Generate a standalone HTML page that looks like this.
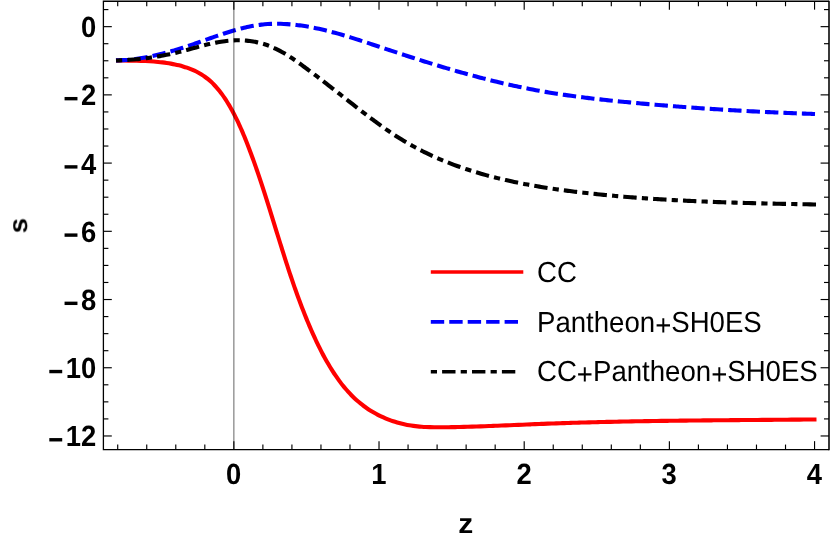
<!DOCTYPE html>
<html><head><meta charset="utf-8">
<style>
html,body{margin:0;padding:0;background:#fff;}
svg{display:block;}
text{font-family:"Liberation Sans",sans-serif;fill:#000;text-rendering:geometricPrecision;}
.txt{filter:grayscale(1);}
.tk{font-weight:bold;font-size:28.4px;}
.lg{font-size:27.6px;}
.ax{font-weight:bold;font-size:28px;}
</style></head><body>
<svg width="830" height="542" viewBox="0 0 830 542">
<rect x="0" y="0" width="830" height="542" fill="#fff"/>
<g fill="none" stroke-linecap="butt" stroke-linejoin="round" stroke-width="4.1">
<path d="M116.00 60.40 C116.67 60.42 118.68 60.46 120.04 60.49 C121.40 60.52 122.76 60.53 124.14 60.55 C125.52 60.57 126.90 60.59 128.30 60.61 C129.69 60.63 131.09 60.65 132.50 60.68 C133.91 60.70 135.32 60.73 136.74 60.77 C138.16 60.80 139.58 60.84 141.01 60.89 C142.44 60.93 143.87 60.99 145.30 61.05 C146.73 61.12 148.16 61.19 149.59 61.27 C151.02 61.36 152.45 61.45 153.88 61.56 C155.31 61.67 156.73 61.79 158.16 61.92 C159.58 62.06 161.00 62.21 162.41 62.38 C163.82 62.55 165.23 62.73 166.63 62.94 C168.03 63.15 169.43 63.37 170.81 63.61 C172.20 63.86 173.58 64.12 174.94 64.41 C176.31 64.70 177.66 65.01 179.01 65.35 C180.35 65.68 181.68 66.04 183.00 66.43 C184.31 66.82 185.62 67.23 186.91 67.68 C188.19 68.12 189.47 68.59 190.72 69.10 C191.98 69.60 193.22 70.13 194.44 70.70 C195.66 71.27 196.86 71.87 198.04 72.50 C199.22 73.13 200.38 73.80 201.52 74.51 C202.65 75.21 203.77 75.95 204.86 76.73 C205.95 77.51 207.02 78.33 208.07 79.19 C209.11 80.04 210.13 80.94 211.13 81.86 C212.13 82.79 213.10 83.75 214.06 84.74 C215.01 85.73 215.94 86.75 216.85 87.80 C217.77 88.84 218.66 89.92 219.53 91.02 C220.40 92.12 221.25 93.24 222.09 94.39 C222.92 95.53 223.73 96.70 224.53 97.88 C225.33 99.06 226.11 100.26 226.87 101.48 C227.64 102.69 228.38 103.92 229.11 105.16 C229.84 106.40 230.56 107.66 231.26 108.92 C231.96 110.18 232.64 111.45 233.32 112.72 C233.99 114.00 234.65 115.27 235.29 116.56 C235.94 117.84 236.57 119.13 237.19 120.42 C237.81 121.71 238.42 123.01 239.02 124.31 C239.62 125.61 240.21 126.91 240.79 128.22 C241.37 129.52 241.94 130.83 242.50 132.14 C243.06 133.46 243.61 134.77 244.15 136.09 C244.69 137.40 245.23 138.72 245.76 140.04 C246.29 141.36 246.81 142.68 247.33 144.00 C247.84 145.33 248.35 146.65 248.86 147.98 C249.36 149.30 249.87 150.62 250.36 151.95 C250.86 153.28 251.35 154.60 251.84 155.93 C252.33 157.25 252.81 158.58 253.29 159.91 C253.77 161.24 254.24 162.56 254.72 163.89 C255.19 165.22 255.66 166.55 256.12 167.88 C256.58 169.21 257.05 170.54 257.50 171.87 C257.96 173.20 258.41 174.53 258.87 175.86 C259.32 177.19 259.76 178.52 260.21 179.85 C260.65 181.18 261.10 182.51 261.54 183.84 C261.98 185.17 262.41 186.51 262.85 187.84 C263.28 189.17 263.72 190.50 264.15 191.83 C264.58 193.16 265.00 194.50 265.43 195.83 C265.86 197.16 266.28 198.49 266.70 199.82 C267.12 201.16 267.54 202.49 267.96 203.82 C268.38 205.15 268.80 206.49 269.22 207.82 C269.63 209.15 270.05 210.48 270.46 211.81 C270.88 213.15 271.29 214.48 271.70 215.81 C272.12 217.14 272.53 218.47 272.94 219.80 C273.35 221.13 273.76 222.47 274.17 223.80 C274.58 225.13 274.99 226.46 275.40 227.79 C275.81 229.12 276.22 230.45 276.63 231.78 C277.04 233.11 277.45 234.44 277.86 235.77 C278.28 237.10 278.69 238.43 279.10 239.75 C279.51 241.08 279.92 242.41 280.34 243.74 C280.75 245.07 281.16 246.39 281.58 247.72 C281.99 249.05 282.41 250.37 282.83 251.70 C283.24 253.02 283.66 254.35 284.08 255.67 C284.50 257.00 284.93 258.32 285.35 259.64 C285.77 260.97 286.20 262.29 286.63 263.61 C287.05 264.93 287.48 266.26 287.92 267.58 C288.35 268.90 288.78 270.22 289.22 271.54 C289.66 272.86 290.09 274.17 290.54 275.49 C290.98 276.81 291.42 278.13 291.87 279.44 C292.32 280.76 292.77 282.07 293.22 283.39 C293.68 284.70 294.13 286.02 294.59 287.33 C295.05 288.64 295.52 289.95 295.98 291.26 C296.45 292.58 296.92 293.89 297.40 295.19 C297.87 296.50 298.35 297.81 298.83 299.12 C299.32 300.42 299.80 301.73 300.29 303.03 C300.79 304.34 301.28 305.64 301.78 306.95 C302.28 308.25 302.79 309.55 303.30 310.85 C303.81 312.15 304.32 313.45 304.84 314.75 C305.36 316.04 305.88 317.34 306.41 318.64 C306.94 319.93 307.48 321.23 308.02 322.52 C308.56 323.81 309.11 325.10 309.66 326.39 C310.21 327.68 310.77 328.97 311.33 330.26 C311.89 331.55 312.46 332.83 313.04 334.12 C313.62 335.40 314.20 336.68 314.79 337.96 C315.38 339.24 315.98 340.52 316.59 341.79 C317.19 343.07 317.81 344.34 318.43 345.61 C319.05 346.87 319.68 348.14 320.32 349.40 C320.96 350.66 321.61 351.92 322.27 353.17 C322.93 354.43 323.60 355.68 324.28 356.92 C324.96 358.16 325.65 359.41 326.35 360.64 C327.05 361.88 327.76 363.11 328.48 364.33 C329.20 365.56 329.94 366.78 330.68 367.99 C331.43 369.20 332.19 370.41 332.96 371.61 C333.73 372.81 334.51 374.00 335.31 375.18 C336.11 376.36 336.92 377.53 337.74 378.68 C338.57 379.84 339.40 380.99 340.26 382.12 C341.11 383.26 341.98 384.38 342.86 385.48 C343.74 386.59 344.64 387.68 345.55 388.75 C346.46 389.83 347.39 390.89 348.33 391.93 C349.28 392.97 350.24 393.99 351.22 395.00 C352.19 396.00 353.19 396.99 354.20 397.95 C355.21 398.91 356.24 399.86 357.29 400.78 C358.33 401.70 359.40 402.60 360.48 403.47 C361.56 404.34 362.67 405.20 363.78 406.02 C364.90 406.85 366.03 407.66 367.18 408.44 C368.33 409.22 369.49 409.98 370.67 410.71 C371.85 411.45 373.04 412.16 374.24 412.84 C375.45 413.53 376.67 414.19 377.90 414.83 C379.13 415.46 380.37 416.08 381.63 416.66 C382.88 417.25 384.15 417.81 385.43 418.35 C386.70 418.89 387.99 419.40 389.28 419.89 C390.58 420.38 391.89 420.84 393.20 421.27 C394.51 421.71 395.84 422.12 397.16 422.51 C398.49 422.89 399.83 423.25 401.17 423.58 C402.52 423.91 403.86 424.22 405.22 424.50 C406.57 424.78 407.93 425.03 409.30 425.26 C410.66 425.49 412.03 425.69 413.40 425.88 C414.78 426.06 416.15 426.22 417.53 426.36 C418.91 426.50 420.30 426.62 421.69 426.73 C423.07 426.83 424.47 426.92 425.86 426.99 C427.25 427.06 428.65 427.12 430.05 427.16 C431.44 427.21 432.84 427.24 434.24 427.26 C435.65 427.28 437.05 427.29 438.45 427.29 C439.86 427.30 441.26 427.29 442.67 427.28 C444.07 427.27 445.48 427.25 446.88 427.23 C448.29 427.22 449.69 427.19 451.10 427.17 C452.50 427.14 453.90 427.12 455.31 427.09 C456.71 427.06 458.12 427.03 459.52 427.00 C460.92 426.96 462.32 426.93 463.73 426.89 C465.13 426.86 466.53 426.82 467.93 426.78 C469.34 426.74 470.74 426.70 472.14 426.65 C473.54 426.61 474.94 426.57 476.34 426.52 C477.74 426.47 479.14 426.42 480.54 426.38 C481.95 426.33 483.35 426.28 484.75 426.23 C486.15 426.17 487.55 426.12 488.95 426.07 C490.35 426.02 491.74 425.96 493.14 425.91 C494.54 425.85 495.94 425.80 497.34 425.74 C498.74 425.68 500.14 425.62 501.54 425.57 C502.94 425.51 504.34 425.45 505.74 425.39 C507.13 425.33 508.53 425.28 509.93 425.22 C511.33 425.16 512.73 425.10 514.13 425.04 C515.52 424.98 516.92 424.92 518.32 424.86 C519.72 424.80 521.12 424.74 522.52 424.68 C523.91 424.62 525.31 424.56 526.71 424.50 C528.11 424.45 529.51 424.39 530.90 424.33 C532.30 424.27 533.70 424.21 535.10 424.16 C536.50 424.10 537.90 424.05 539.29 423.99 C540.69 423.94 542.09 423.88 543.49 423.83 C544.89 423.77 546.29 423.72 547.69 423.67 C549.08 423.62 550.48 423.57 551.88 423.52 C553.28 423.47 554.68 423.42 556.08 423.37 C557.48 423.32 558.88 423.27 560.27 423.22 C561.67 423.18 563.07 423.13 564.47 423.09 C565.87 423.04 567.27 423.00 568.67 422.95 C570.07 422.91 571.47 422.86 572.87 422.82 C574.26 422.78 575.66 422.74 577.06 422.69 C578.46 422.65 579.86 422.61 581.26 422.57 C582.66 422.53 584.06 422.49 585.46 422.45 C586.86 422.42 588.26 422.38 589.66 422.34 C591.06 422.30 592.46 422.27 593.86 422.23 C595.26 422.19 596.66 422.16 598.06 422.12 C599.46 422.09 600.86 422.05 602.26 422.02 C603.66 421.99 605.06 421.95 606.46 421.92 C607.86 421.89 609.26 421.86 610.66 421.83 C612.06 421.79 613.46 421.76 614.86 421.73 C616.26 421.70 617.66 421.67 619.06 421.64 C620.46 421.62 621.86 421.59 623.26 421.56 C624.66 421.53 626.06 421.50 627.46 421.48 C628.86 421.45 630.26 421.42 631.66 421.40 C633.06 421.37 634.46 421.34 635.86 421.32 C637.26 421.29 638.66 421.27 640.06 421.25 C641.46 421.22 642.86 421.20 644.26 421.17 C645.66 421.15 647.06 421.13 648.46 421.11 C649.86 421.08 651.26 421.06 652.66 421.04 C654.06 421.02 655.46 421.00 656.86 420.98 C658.27 420.96 659.67 420.94 661.07 420.92 C662.47 420.90 663.87 420.88 665.27 420.86 C666.67 420.84 668.07 420.82 669.47 420.80 C670.87 420.78 672.27 420.76 673.67 420.74 C675.07 420.73 676.47 420.71 677.87 420.69 C679.27 420.67 680.67 420.66 682.07 420.64 C683.48 420.62 684.88 420.61 686.28 420.59 C687.68 420.58 689.08 420.56 690.48 420.54 C691.88 420.53 693.28 420.51 694.68 420.50 C696.08 420.48 697.48 420.47 698.88 420.45 C700.28 420.44 701.68 420.43 703.08 420.41 C704.48 420.40 705.89 420.38 707.29 420.37 C708.69 420.36 710.09 420.34 711.49 420.33 C712.89 420.32 714.29 420.30 715.69 420.29 C717.09 420.28 718.49 420.26 719.89 420.25 C721.29 420.24 722.69 420.23 724.09 420.21 C725.49 420.20 726.89 420.19 728.29 420.18 C729.69 420.17 731.10 420.15 732.50 420.14 C733.90 420.13 735.30 420.12 736.70 420.11 C738.10 420.10 739.50 420.08 740.90 420.07 C742.30 420.06 743.70 420.05 745.10 420.04 C746.50 420.03 747.90 420.02 749.30 420.00 C750.70 419.99 752.10 419.98 753.50 419.97 C754.90 419.96 756.30 419.95 757.70 419.94 C759.10 419.93 760.50 419.92 761.90 419.90 C763.30 419.89 764.70 419.88 766.10 419.87 C767.50 419.86 768.90 419.85 770.30 419.84 C771.70 419.83 773.10 419.82 774.50 419.80 C775.90 419.79 777.30 419.78 778.70 419.77 C780.10 419.76 781.50 419.75 782.90 419.74 C784.30 419.72 785.70 419.71 787.10 419.70 C788.50 419.69 789.90 419.68 791.30 419.67 C792.70 419.65 794.10 419.64 795.50 419.63 C796.90 419.62 798.30 419.61 799.70 419.59 C801.10 419.58 802.50 419.57 803.90 419.56 C805.30 419.54 806.70 419.53 808.09 419.52 C809.49 419.50 810.89 419.49 812.29 419.48 C813.69 419.47 815.80 419.45 816.50 419.44" stroke="#ff0000"/>
<path d="M116.00 60.40 C116.55 60.38 118.20 60.35 119.29 60.30 C120.38 60.26 121.46 60.22 122.55 60.16 C123.63 60.10 124.72 60.02 125.80 59.94 C126.88 59.86 127.95 59.77 129.03 59.67 C130.11 59.57 131.18 59.46 132.25 59.34 C133.33 59.22 134.40 59.09 135.47 58.96 C136.53 58.82 137.60 58.67 138.67 58.51 C139.73 58.36 140.80 58.19 141.86 58.02 C142.92 57.85 143.98 57.67 145.04 57.48 C146.10 57.29 147.16 57.09 148.22 56.89 C149.28 56.68 150.33 56.47 151.39 56.25 C152.44 56.03 153.49 55.80 154.55 55.56 C155.60 55.33 156.65 55.09 157.70 54.84 C158.75 54.59 159.80 54.33 160.85 54.07 C161.90 53.81 162.94 53.54 163.99 53.27 C165.04 52.99 166.08 52.71 167.13 52.43 C168.17 52.14 169.22 51.85 170.26 51.55 C171.31 51.25 172.35 50.95 173.39 50.64 C174.44 50.34 175.48 50.02 176.52 49.71 C177.56 49.39 178.60 49.07 179.65 48.74 C180.69 48.41 181.73 48.08 182.77 47.75 C183.81 47.41 184.85 47.07 185.89 46.73 C186.93 46.38 187.97 46.04 189.02 45.69 C190.06 45.34 191.10 44.98 192.14 44.63 C193.18 44.27 194.22 43.91 195.26 43.55 C196.30 43.18 197.35 42.82 198.39 42.45 C199.43 42.08 200.47 41.71 201.51 41.34 C202.56 40.97 203.60 40.60 204.64 40.23 C205.69 39.86 206.73 39.49 207.77 39.12 C208.82 38.75 209.86 38.38 210.90 38.01 C211.95 37.64 212.99 37.27 214.04 36.91 C215.08 36.54 216.13 36.18 217.18 35.82 C218.22 35.46 219.27 35.10 220.32 34.75 C221.36 34.40 222.41 34.05 223.46 33.70 C224.50 33.36 225.55 33.02 226.60 32.68 C227.65 32.35 228.70 32.02 229.75 31.69 C230.80 31.37 231.85 31.05 232.90 30.74 C233.95 30.43 235.00 30.13 236.05 29.83 C237.10 29.54 238.16 29.25 239.21 28.97 C240.26 28.69 241.32 28.42 242.37 28.16 C243.43 27.90 244.48 27.65 245.54 27.41 C246.59 27.16 247.65 26.93 248.70 26.71 C249.76 26.49 250.82 26.28 251.88 26.08 C252.93 25.89 253.99 25.70 255.05 25.53 C256.11 25.35 257.17 25.19 258.23 25.04 C259.29 24.89 260.36 24.76 261.42 24.64 C262.48 24.52 263.54 24.41 264.61 24.32 C265.67 24.22 266.74 24.14 267.80 24.07 C268.87 24.00 269.93 23.95 271.00 23.90 C272.06 23.86 273.13 23.82 274.20 23.80 C275.26 23.78 276.33 23.78 277.40 23.78 C278.47 23.78 279.53 23.80 280.60 23.82 C281.67 23.85 282.74 23.88 283.81 23.93 C284.87 23.98 285.94 24.03 287.01 24.10 C288.08 24.17 289.15 24.25 290.22 24.34 C291.28 24.42 292.35 24.52 293.42 24.63 C294.49 24.74 295.56 24.85 296.62 24.98 C297.69 25.10 298.76 25.24 299.83 25.38 C300.90 25.53 301.96 25.68 303.03 25.84 C304.10 26.00 305.16 26.17 306.23 26.35 C307.29 26.52 308.36 26.71 309.42 26.90 C310.49 27.09 311.55 27.29 312.62 27.50 C313.68 27.70 314.74 27.92 315.81 28.14 C316.87 28.36 317.93 28.59 318.99 28.82 C320.05 29.06 321.11 29.30 322.17 29.54 C323.23 29.79 324.29 30.04 325.35 30.30 C326.40 30.56 327.46 30.82 328.52 31.09 C329.57 31.36 330.63 31.63 331.68 31.91 C332.73 32.19 333.79 32.47 334.84 32.76 C335.89 33.05 336.94 33.34 337.99 33.63 C339.04 33.93 340.09 34.23 341.14 34.54 C342.18 34.84 343.23 35.15 344.28 35.46 C345.32 35.77 346.37 36.09 347.41 36.41 C348.46 36.72 349.50 37.04 350.55 37.37 C351.59 37.69 352.63 38.02 353.68 38.35 C354.72 38.68 355.76 39.01 356.80 39.34 C357.84 39.67 358.88 40.01 359.92 40.35 C360.96 40.68 362.00 41.02 363.04 41.36 C364.08 41.70 365.12 42.04 366.16 42.39 C367.19 42.73 368.23 43.07 369.27 43.42 C370.31 43.76 371.34 44.10 372.38 44.45 C373.42 44.79 374.45 45.14 375.49 45.48 C376.52 45.83 377.56 46.17 378.60 46.51 C379.63 46.86 380.67 47.20 381.70 47.55 C382.74 47.89 383.77 48.23 384.81 48.58 C385.84 48.92 386.88 49.26 387.91 49.60 C388.94 49.95 389.98 50.29 391.01 50.63 C392.05 50.97 393.08 51.31 394.12 51.65 C395.15 51.99 396.18 52.33 397.22 52.67 C398.25 53.01 399.29 53.35 400.32 53.69 C401.36 54.03 402.39 54.37 403.43 54.70 C404.46 55.04 405.50 55.38 406.53 55.71 C407.57 56.05 408.60 56.38 409.64 56.72 C410.67 57.05 411.71 57.39 412.74 57.72 C413.78 58.05 414.82 58.38 415.85 58.71 C416.89 59.05 417.93 59.38 418.96 59.71 C420.00 60.03 421.04 60.36 422.08 60.69 C423.12 61.02 424.16 61.35 425.19 61.67 C426.23 62.00 427.27 62.32 428.31 62.65 C429.35 62.97 430.40 63.29 431.44 63.61 C432.48 63.94 433.52 64.26 434.56 64.58 C435.60 64.89 436.65 65.21 437.69 65.53 C438.73 65.85 439.78 66.16 440.82 66.48 C441.86 66.79 442.91 67.11 443.95 67.42 C445.00 67.73 446.04 68.04 447.09 68.35 C448.14 68.66 449.18 68.97 450.23 69.28 C451.27 69.58 452.32 69.89 453.37 70.19 C454.42 70.50 455.47 70.80 456.51 71.10 C457.56 71.40 458.61 71.70 459.66 72.00 C460.71 72.30 461.76 72.59 462.81 72.89 C463.86 73.18 464.91 73.48 465.96 73.77 C467.01 74.06 468.06 74.35 469.12 74.64 C470.17 74.93 471.22 75.22 472.27 75.50 C473.32 75.79 474.38 76.07 475.43 76.35 C476.49 76.63 477.54 76.91 478.59 77.19 C479.65 77.47 480.70 77.75 481.76 78.02 C482.81 78.30 483.87 78.57 484.92 78.84 C485.98 79.11 487.04 79.38 488.09 79.65 C489.15 79.91 490.21 80.18 491.26 80.44 C492.32 80.70 493.38 80.96 494.44 81.22 C495.49 81.48 496.55 81.74 497.61 81.99 C498.67 82.25 499.73 82.50 500.79 82.75 C501.85 83.00 502.91 83.25 503.97 83.49 C505.03 83.74 506.09 83.98 507.15 84.22 C508.21 84.47 509.27 84.71 510.34 84.94 C511.40 85.18 512.46 85.41 513.52 85.65 C514.59 85.88 515.65 86.11 516.71 86.34 C517.77 86.56 518.84 86.79 519.90 87.01 C520.97 87.23 522.03 87.45 523.09 87.67 C524.16 87.89 525.22 88.10 526.29 88.32 C527.35 88.53 528.42 88.74 529.49 88.95 C530.55 89.15 531.62 89.36 532.68 89.56 C533.75 89.76 534.82 89.96 535.88 90.16 C536.95 90.36 538.02 90.55 539.09 90.74 C540.15 90.93 541.22 91.12 542.29 91.31 C543.36 91.50 544.43 91.68 545.50 91.86 C546.56 92.05 547.63 92.23 548.70 92.40 C549.77 92.58 550.84 92.75 551.91 92.93 C552.98 93.10 554.05 93.27 555.12 93.44 C556.19 93.61 557.27 93.77 558.34 93.94 C559.41 94.10 560.48 94.26 561.55 94.42 C562.62 94.58 563.70 94.74 564.77 94.90 C565.84 95.05 566.91 95.21 567.99 95.36 C569.06 95.51 570.13 95.66 571.20 95.81 C572.28 95.96 573.35 96.10 574.43 96.25 C575.50 96.39 576.57 96.53 577.65 96.68 C578.72 96.82 579.80 96.96 580.87 97.09 C581.95 97.23 583.02 97.37 584.10 97.50 C585.17 97.64 586.25 97.77 587.32 97.90 C588.40 98.03 589.47 98.16 590.55 98.29 C591.63 98.42 592.70 98.54 593.78 98.67 C594.86 98.79 595.93 98.92 597.01 99.04 C598.09 99.16 599.17 99.29 600.24 99.41 C601.32 99.53 602.40 99.64 603.48 99.76 C604.55 99.88 605.63 100.00 606.71 100.11 C607.79 100.23 608.87 100.34 609.95 100.45 C611.03 100.57 612.11 100.68 613.18 100.79 C614.26 100.90 615.34 101.01 616.42 101.12 C617.50 101.23 618.58 101.34 619.66 101.45 C620.74 101.55 621.82 101.66 622.90 101.77 C623.98 101.87 625.06 101.98 626.14 102.08 C627.23 102.18 628.31 102.29 629.39 102.39 C630.47 102.49 631.55 102.60 632.63 102.70 C633.71 102.80 634.79 102.90 635.88 103.00 C636.96 103.10 638.04 103.20 639.12 103.30 C640.20 103.40 641.29 103.49 642.37 103.59 C643.45 103.69 644.53 103.79 645.61 103.88 C646.70 103.98 647.78 104.07 648.86 104.17 C649.95 104.26 651.03 104.36 652.11 104.45 C653.20 104.54 654.28 104.64 655.36 104.73 C656.45 104.82 657.53 104.91 658.61 105.00 C659.70 105.09 660.78 105.18 661.86 105.27 C662.95 105.36 664.03 105.45 665.12 105.54 C666.20 105.63 667.29 105.72 668.37 105.80 C669.45 105.89 670.54 105.98 671.62 106.06 C672.71 106.15 673.79 106.23 674.88 106.32 C675.96 106.40 677.05 106.48 678.13 106.57 C679.22 106.65 680.30 106.73 681.39 106.82 C682.47 106.90 683.56 106.98 684.64 107.06 C685.73 107.14 686.81 107.22 687.90 107.30 C688.99 107.38 690.07 107.46 691.16 107.54 C692.24 107.61 693.33 107.69 694.42 107.77 C695.50 107.85 696.59 107.92 697.67 108.00 C698.76 108.07 699.85 108.15 700.93 108.22 C702.02 108.30 703.10 108.37 704.19 108.45 C705.28 108.52 706.36 108.59 707.45 108.66 C708.54 108.74 709.62 108.81 710.71 108.88 C711.80 108.95 712.88 109.02 713.97 109.09 C715.05 109.16 716.14 109.23 717.23 109.30 C718.31 109.37 719.40 109.43 720.49 109.50 C721.58 109.57 722.66 109.64 723.75 109.70 C724.84 109.77 725.92 109.83 727.01 109.90 C728.10 109.96 729.18 110.03 730.27 110.09 C731.36 110.16 732.44 110.22 733.53 110.28 C734.62 110.35 735.70 110.41 736.79 110.47 C737.88 110.53 738.97 110.59 740.05 110.65 C741.14 110.71 742.23 110.77 743.31 110.83 C744.40 110.89 745.49 110.95 746.57 111.01 C747.66 111.07 748.75 111.13 749.84 111.18 C750.92 111.24 752.01 111.30 753.10 111.35 C754.18 111.41 755.27 111.47 756.36 111.52 C757.44 111.58 758.53 111.63 759.62 111.68 C760.70 111.74 761.79 111.79 762.88 111.84 C763.97 111.90 765.05 111.95 766.14 112.00 C767.23 112.05 768.31 112.11 769.40 112.16 C770.49 112.21 771.57 112.26 772.66 112.31 C773.75 112.36 774.83 112.41 775.92 112.45 C777.00 112.50 778.09 112.55 779.18 112.60 C780.26 112.65 781.35 112.69 782.44 112.74 C783.52 112.79 784.61 112.83 785.70 112.88 C786.78 112.93 787.87 112.97 788.95 113.02 C790.04 113.06 791.13 113.10 792.21 113.15 C793.30 113.19 794.38 113.23 795.47 113.28 C796.55 113.32 797.64 113.36 798.73 113.40 C799.81 113.44 800.90 113.49 801.98 113.53 C803.07 113.57 804.15 113.61 805.24 113.65 C806.32 113.69 807.41 113.73 808.49 113.76 C809.58 113.80 810.66 113.84 811.75 113.88 C812.83 113.92 814.46 113.98 815.00 114.00" stroke="#0000ff" stroke-dasharray="13.4 5.05"/>
<path d="M116.00 60.50 C116.57 60.48 118.29 60.42 119.44 60.38 C120.58 60.33 121.72 60.28 122.86 60.22 C124.00 60.16 125.14 60.10 126.27 60.03 C127.41 59.96 128.54 59.88 129.67 59.80 C130.81 59.72 131.93 59.64 133.06 59.54 C134.19 59.45 135.32 59.35 136.44 59.25 C137.56 59.14 138.69 59.03 139.81 58.92 C140.93 58.80 142.05 58.68 143.17 58.55 C144.28 58.42 145.40 58.28 146.51 58.14 C147.63 58.00 148.74 57.85 149.85 57.69 C150.97 57.54 152.08 57.37 153.19 57.21 C154.30 57.04 155.40 56.86 156.51 56.68 C157.62 56.50 158.73 56.31 159.83 56.11 C160.94 55.92 162.04 55.72 163.14 55.51 C164.25 55.30 165.35 55.08 166.45 54.86 C167.55 54.64 168.65 54.41 169.75 54.17 C170.85 53.94 171.95 53.70 173.05 53.45 C174.15 53.20 175.25 52.94 176.34 52.68 C177.44 52.41 178.54 52.14 179.63 51.87 C180.73 51.59 181.83 51.30 182.92 51.02 C184.02 50.73 185.12 50.44 186.21 50.14 C187.31 49.85 188.41 49.55 189.50 49.25 C190.60 48.95 191.70 48.65 192.80 48.35 C193.90 48.05 195.00 47.75 196.10 47.45 C197.20 47.15 198.30 46.85 199.40 46.56 C200.51 46.27 201.61 45.98 202.72 45.69 C203.83 45.41 204.94 45.13 206.05 44.85 C207.16 44.58 208.27 44.31 209.39 44.06 C210.50 43.80 211.62 43.55 212.74 43.31 C213.86 43.07 214.98 42.84 216.10 42.62 C217.22 42.40 218.34 42.19 219.47 42.00 C220.59 41.80 221.72 41.62 222.84 41.45 C223.97 41.29 225.10 41.13 226.22 41.00 C227.35 40.86 228.48 40.74 229.61 40.64 C230.74 40.54 231.87 40.45 233.00 40.39 C234.12 40.33 235.25 40.28 236.38 40.25 C237.51 40.23 238.64 40.23 239.76 40.25 C240.89 40.26 242.02 40.30 243.14 40.36 C244.26 40.43 245.39 40.51 246.51 40.61 C247.63 40.71 248.74 40.84 249.85 40.99 C250.97 41.13 252.08 41.30 253.18 41.49 C254.29 41.68 255.39 41.89 256.48 42.12 C257.58 42.35 258.67 42.60 259.75 42.88 C260.83 43.15 261.91 43.45 262.98 43.77 C264.05 44.08 265.11 44.42 266.17 44.78 C267.22 45.14 268.27 45.52 269.31 45.93 C270.35 46.33 271.38 46.75 272.40 47.20 C273.43 47.64 274.44 48.10 275.45 48.58 C276.45 49.06 277.45 49.56 278.45 50.08 C279.44 50.59 280.43 51.12 281.41 51.67 C282.39 52.21 283.36 52.77 284.33 53.35 C285.30 53.92 286.26 54.50 287.22 55.10 C288.18 55.70 289.13 56.31 290.08 56.93 C291.03 57.54 291.97 58.17 292.91 58.81 C293.85 59.44 294.79 60.09 295.72 60.74 C296.66 61.39 297.59 62.05 298.51 62.71 C299.44 63.37 300.36 64.04 301.28 64.71 C302.21 65.38 303.12 66.05 304.04 66.72 C304.96 67.40 305.87 68.08 306.79 68.75 C307.70 69.43 308.62 70.11 309.53 70.79 C310.44 71.47 311.35 72.16 312.25 72.84 C313.16 73.52 314.07 74.21 314.98 74.90 C315.88 75.58 316.78 76.27 317.69 76.96 C318.59 77.65 319.49 78.34 320.39 79.03 C321.30 79.72 322.20 80.42 323.10 81.11 C323.99 81.80 324.89 82.50 325.79 83.19 C326.69 83.89 327.59 84.59 328.48 85.28 C329.38 85.98 330.28 86.68 331.17 87.38 C332.07 88.07 332.96 88.77 333.86 89.47 C334.75 90.17 335.65 90.87 336.54 91.57 C337.44 92.27 338.33 92.98 339.22 93.68 C340.12 94.38 341.01 95.08 341.91 95.78 C342.80 96.49 343.70 97.19 344.59 97.89 C345.48 98.59 346.38 99.30 347.27 100.00 C348.17 100.70 349.06 101.41 349.96 102.11 C350.86 102.81 351.75 103.51 352.65 104.22 C353.55 104.92 354.45 105.62 355.34 106.32 C356.24 107.03 357.14 107.73 358.04 108.43 C358.94 109.13 359.84 109.83 360.75 110.53 C361.65 111.23 362.55 111.92 363.45 112.62 C364.36 113.31 365.26 114.01 366.17 114.70 C367.08 115.39 367.99 116.09 368.89 116.77 C369.80 117.46 370.71 118.15 371.63 118.83 C372.54 119.52 373.45 120.20 374.37 120.88 C375.28 121.56 376.20 122.23 377.12 122.90 C378.04 123.58 378.96 124.25 379.88 124.91 C380.81 125.58 381.73 126.24 382.66 126.90 C383.58 127.56 384.51 128.21 385.44 128.86 C386.37 129.51 387.31 130.16 388.24 130.80 C389.18 131.44 390.12 132.08 391.06 132.71 C392.00 133.34 392.94 133.97 393.88 134.59 C394.83 135.21 395.78 135.83 396.73 136.44 C397.68 137.05 398.63 137.66 399.59 138.26 C400.55 138.86 401.50 139.45 402.47 140.04 C403.43 140.63 404.39 141.21 405.36 141.79 C406.33 142.36 407.30 142.93 408.28 143.49 C409.25 144.05 410.23 144.61 411.21 145.16 C412.19 145.71 413.17 146.25 414.16 146.79 C415.14 147.33 416.13 147.86 417.12 148.38 C418.11 148.91 419.11 149.43 420.11 149.94 C421.10 150.45 422.10 150.96 423.11 151.46 C424.11 151.96 425.12 152.46 426.12 152.95 C427.13 153.44 428.14 153.92 429.16 154.40 C430.17 154.88 431.19 155.35 432.20 155.82 C433.22 156.28 434.24 156.74 435.27 157.20 C436.29 157.65 437.32 158.10 438.35 158.55 C439.37 158.99 440.41 159.43 441.44 159.86 C442.47 160.30 443.51 160.73 444.55 161.15 C445.58 161.57 446.62 161.99 447.67 162.40 C448.71 162.81 449.75 163.22 450.80 163.62 C451.85 164.02 452.90 164.42 453.95 164.81 C455.00 165.20 456.05 165.59 457.11 165.97 C458.16 166.35 459.22 166.73 460.28 167.10 C461.34 167.47 462.40 167.84 463.47 168.20 C464.53 168.57 465.60 168.92 466.66 169.28 C467.73 169.63 468.80 169.98 469.87 170.32 C470.94 170.66 472.02 171.00 473.09 171.34 C474.17 171.67 475.24 172.00 476.32 172.32 C477.40 172.65 478.48 172.97 479.56 173.29 C480.64 173.60 481.73 173.92 482.81 174.22 C483.90 174.53 484.99 174.83 486.07 175.13 C487.16 175.43 488.25 175.73 489.34 176.02 C490.44 176.31 491.53 176.60 492.62 176.88 C493.72 177.16 494.81 177.44 495.91 177.72 C497.01 177.99 498.11 178.26 499.21 178.53 C500.31 178.80 501.41 179.06 502.51 179.32 C503.61 179.58 504.72 179.84 505.82 180.09 C506.93 180.34 508.04 180.59 509.14 180.83 C510.25 181.08 511.36 181.32 512.47 181.56 C513.58 181.79 514.69 182.03 515.80 182.26 C516.91 182.49 518.03 182.72 519.14 182.94 C520.26 183.17 521.37 183.39 522.49 183.60 C523.60 183.82 524.72 184.04 525.84 184.25 C526.96 184.46 528.07 184.67 529.19 184.87 C530.31 185.08 531.43 185.28 532.56 185.48 C533.68 185.68 534.80 185.87 535.92 186.06 C537.04 186.26 538.17 186.45 539.29 186.63 C540.42 186.82 541.54 187.01 542.67 187.19 C543.79 187.37 544.92 187.55 546.04 187.72 C547.17 187.90 548.30 188.07 549.42 188.25 C550.55 188.42 551.68 188.58 552.81 188.75 C553.94 188.92 555.07 189.08 556.19 189.24 C557.32 189.40 558.45 189.56 559.58 189.72 C560.71 189.87 561.84 190.03 562.97 190.18 C564.10 190.33 565.23 190.48 566.37 190.63 C567.50 190.78 568.63 190.92 569.76 191.07 C570.89 191.21 572.02 191.35 573.15 191.49 C574.28 191.63 575.42 191.77 576.55 191.90 C577.68 192.04 578.81 192.17 579.94 192.30 C581.07 192.43 582.20 192.56 583.34 192.69 C584.47 192.82 585.60 192.95 586.73 193.07 C587.86 193.20 588.99 193.32 590.12 193.44 C591.25 193.56 592.38 193.69 593.52 193.80 C594.65 193.92 595.78 194.04 596.91 194.16 C598.04 194.27 599.17 194.39 600.29 194.50 C601.42 194.61 602.55 194.72 603.68 194.84 C604.81 194.95 605.94 195.05 607.07 195.16 C608.20 195.27 609.33 195.38 610.45 195.48 C611.58 195.58 612.71 195.69 613.84 195.79 C614.97 195.89 616.09 195.99 617.22 196.09 C618.35 196.19 619.48 196.29 620.60 196.39 C621.73 196.48 622.86 196.58 623.98 196.67 C625.11 196.77 626.24 196.86 627.36 196.95 C628.49 197.04 629.62 197.14 630.74 197.22 C631.87 197.31 632.99 197.40 634.12 197.49 C635.25 197.58 636.37 197.66 637.50 197.75 C638.62 197.83 639.75 197.91 640.88 198.00 C642.00 198.08 643.13 198.16 644.25 198.24 C645.38 198.32 646.50 198.40 647.63 198.47 C648.75 198.55 649.88 198.63 651.00 198.70 C652.13 198.78 653.25 198.85 654.38 198.93 C655.50 199.00 656.63 199.07 657.75 199.14 C658.88 199.22 660.00 199.29 661.13 199.35 C662.25 199.42 663.37 199.49 664.50 199.56 C665.62 199.63 666.75 199.69 667.87 199.76 C669.00 199.82 670.12 199.89 671.25 199.95 C672.37 200.01 673.49 200.07 674.62 200.13 C675.74 200.20 676.87 200.26 677.99 200.32 C679.12 200.38 680.24 200.43 681.37 200.49 C682.49 200.55 683.61 200.61 684.74 200.66 C685.86 200.72 686.99 200.77 688.11 200.83 C689.24 200.88 690.36 200.93 691.49 200.99 C692.61 201.04 693.74 201.09 694.86 201.14 C695.98 201.19 697.11 201.24 698.23 201.29 C699.36 201.34 700.48 201.39 701.61 201.43 C702.73 201.48 703.86 201.53 704.98 201.57 C706.11 201.62 707.23 201.67 708.36 201.71 C709.49 201.76 710.61 201.80 711.74 201.84 C712.86 201.89 713.99 201.93 715.11 201.97 C716.24 202.01 717.37 202.05 718.49 202.09 C719.62 202.13 720.74 202.17 721.87 202.21 C723.00 202.25 724.12 202.29 725.25 202.33 C726.38 202.37 727.50 202.40 728.63 202.44 C729.76 202.48 730.88 202.51 732.01 202.55 C733.14 202.58 734.26 202.62 735.39 202.65 C736.52 202.69 737.65 202.72 738.77 202.76 C739.90 202.79 741.03 202.82 742.16 202.85 C743.29 202.89 744.42 202.92 745.54 202.95 C746.67 202.98 747.80 203.01 748.93 203.04 C750.06 203.07 751.19 203.10 752.32 203.13 C753.45 203.16 754.58 203.19 755.71 203.22 C756.84 203.25 757.97 203.28 759.10 203.30 C760.23 203.33 761.36 203.36 762.49 203.39 C763.62 203.41 764.75 203.44 765.88 203.47 C767.02 203.49 768.15 203.52 769.28 203.55 C770.41 203.57 771.54 203.60 772.68 203.62 C773.81 203.65 774.94 203.67 776.07 203.70 C777.21 203.72 778.34 203.74 779.48 203.77 C780.61 203.79 781.74 203.82 782.88 203.84 C784.01 203.86 785.15 203.89 786.28 203.91 C787.42 203.93 788.55 203.96 789.69 203.98 C790.82 204.00 791.96 204.02 793.10 204.05 C794.23 204.07 795.37 204.09 796.51 204.11 C797.64 204.13 798.78 204.16 799.92 204.18 C801.06 204.20 802.19 204.22 803.33 204.24 C804.47 204.26 805.61 204.28 806.75 204.31 C807.89 204.33 809.03 204.35 810.17 204.37 C811.31 204.39 812.45 204.41 813.59 204.43 C814.73 204.45 816.43 204.49 817.00 204.50" stroke="#000" stroke-dasharray="6.2 5.1 13.4 5.2"/>
</g>
<line x1="233.85" y1="1.25" x2="233.85" y2="449.55" stroke="#000" stroke-opacity="0.5" stroke-width="1.2"/>
<g>
<line x1="117.71" y1="449.55" x2="117.71" y2="444.55" stroke="#000" stroke-width="1.15"/>
<line x1="117.71" y1="1.25" x2="117.71" y2="6.25" stroke="#000" stroke-width="1.15"/>
<line x1="146.74" y1="449.55" x2="146.74" y2="444.55" stroke="#000" stroke-width="1.15"/>
<line x1="146.74" y1="1.25" x2="146.74" y2="6.25" stroke="#000" stroke-width="1.15"/>
<line x1="175.78" y1="449.55" x2="175.78" y2="444.55" stroke="#000" stroke-width="1.15"/>
<line x1="175.78" y1="1.25" x2="175.78" y2="6.25" stroke="#000" stroke-width="1.15"/>
<line x1="204.81" y1="449.55" x2="204.81" y2="444.55" stroke="#000" stroke-width="1.15"/>
<line x1="204.81" y1="1.25" x2="204.81" y2="6.25" stroke="#000" stroke-width="1.15"/>
<line x1="233.85" y1="449.55" x2="233.85" y2="441.15" stroke="#000" stroke-width="1.15"/>
<line x1="233.85" y1="1.25" x2="233.85" y2="9.65" stroke="#000" stroke-width="1.15"/>
<line x1="262.88" y1="449.55" x2="262.88" y2="444.55" stroke="#000" stroke-width="1.15"/>
<line x1="262.88" y1="1.25" x2="262.88" y2="6.25" stroke="#000" stroke-width="1.15"/>
<line x1="291.92" y1="449.55" x2="291.92" y2="444.55" stroke="#000" stroke-width="1.15"/>
<line x1="291.92" y1="1.25" x2="291.92" y2="6.25" stroke="#000" stroke-width="1.15"/>
<line x1="320.96" y1="449.55" x2="320.96" y2="444.55" stroke="#000" stroke-width="1.15"/>
<line x1="320.96" y1="1.25" x2="320.96" y2="6.25" stroke="#000" stroke-width="1.15"/>
<line x1="349.99" y1="449.55" x2="349.99" y2="444.55" stroke="#000" stroke-width="1.15"/>
<line x1="349.99" y1="1.25" x2="349.99" y2="6.25" stroke="#000" stroke-width="1.15"/>
<line x1="379.02" y1="449.55" x2="379.02" y2="441.15" stroke="#000" stroke-width="1.15"/>
<line x1="379.02" y1="1.25" x2="379.02" y2="9.65" stroke="#000" stroke-width="1.15"/>
<line x1="408.06" y1="449.55" x2="408.06" y2="444.55" stroke="#000" stroke-width="1.15"/>
<line x1="408.06" y1="1.25" x2="408.06" y2="6.25" stroke="#000" stroke-width="1.15"/>
<line x1="437.10" y1="449.55" x2="437.10" y2="444.55" stroke="#000" stroke-width="1.15"/>
<line x1="437.10" y1="1.25" x2="437.10" y2="6.25" stroke="#000" stroke-width="1.15"/>
<line x1="466.13" y1="449.55" x2="466.13" y2="444.55" stroke="#000" stroke-width="1.15"/>
<line x1="466.13" y1="1.25" x2="466.13" y2="6.25" stroke="#000" stroke-width="1.15"/>
<line x1="495.17" y1="449.55" x2="495.17" y2="444.55" stroke="#000" stroke-width="1.15"/>
<line x1="495.17" y1="1.25" x2="495.17" y2="6.25" stroke="#000" stroke-width="1.15"/>
<line x1="524.20" y1="449.55" x2="524.20" y2="441.15" stroke="#000" stroke-width="1.15"/>
<line x1="524.20" y1="1.25" x2="524.20" y2="9.65" stroke="#000" stroke-width="1.15"/>
<line x1="553.24" y1="449.55" x2="553.24" y2="444.55" stroke="#000" stroke-width="1.15"/>
<line x1="553.24" y1="1.25" x2="553.24" y2="6.25" stroke="#000" stroke-width="1.15"/>
<line x1="582.27" y1="449.55" x2="582.27" y2="444.55" stroke="#000" stroke-width="1.15"/>
<line x1="582.27" y1="1.25" x2="582.27" y2="6.25" stroke="#000" stroke-width="1.15"/>
<line x1="611.31" y1="449.55" x2="611.31" y2="444.55" stroke="#000" stroke-width="1.15"/>
<line x1="611.31" y1="1.25" x2="611.31" y2="6.25" stroke="#000" stroke-width="1.15"/>
<line x1="640.34" y1="449.55" x2="640.34" y2="444.55" stroke="#000" stroke-width="1.15"/>
<line x1="640.34" y1="1.25" x2="640.34" y2="6.25" stroke="#000" stroke-width="1.15"/>
<line x1="669.38" y1="449.55" x2="669.38" y2="441.15" stroke="#000" stroke-width="1.15"/>
<line x1="669.38" y1="1.25" x2="669.38" y2="9.65" stroke="#000" stroke-width="1.15"/>
<line x1="698.41" y1="449.55" x2="698.41" y2="444.55" stroke="#000" stroke-width="1.15"/>
<line x1="698.41" y1="1.25" x2="698.41" y2="6.25" stroke="#000" stroke-width="1.15"/>
<line x1="727.45" y1="449.55" x2="727.45" y2="444.55" stroke="#000" stroke-width="1.15"/>
<line x1="727.45" y1="1.25" x2="727.45" y2="6.25" stroke="#000" stroke-width="1.15"/>
<line x1="756.48" y1="449.55" x2="756.48" y2="444.55" stroke="#000" stroke-width="1.15"/>
<line x1="756.48" y1="1.25" x2="756.48" y2="6.25" stroke="#000" stroke-width="1.15"/>
<line x1="785.52" y1="449.55" x2="785.52" y2="444.55" stroke="#000" stroke-width="1.15"/>
<line x1="785.52" y1="1.25" x2="785.52" y2="6.25" stroke="#000" stroke-width="1.15"/>
<line x1="814.55" y1="449.55" x2="814.55" y2="441.15" stroke="#000" stroke-width="1.15"/>
<line x1="814.55" y1="1.25" x2="814.55" y2="9.65" stroke="#000" stroke-width="1.15"/>
<line x1="103.40" y1="9.59" x2="108.40" y2="9.59" stroke="#000" stroke-width="1.15"/>
<line x1="829.00" y1="9.59" x2="824.00" y2="9.59" stroke="#000" stroke-width="1.15"/>
<line x1="103.40" y1="26.65" x2="111.80" y2="26.65" stroke="#000" stroke-width="1.15"/>
<line x1="829.00" y1="26.65" x2="820.60" y2="26.65" stroke="#000" stroke-width="1.15"/>
<line x1="103.40" y1="43.70" x2="108.40" y2="43.70" stroke="#000" stroke-width="1.15"/>
<line x1="829.00" y1="43.70" x2="824.00" y2="43.70" stroke="#000" stroke-width="1.15"/>
<line x1="103.40" y1="60.76" x2="108.40" y2="60.76" stroke="#000" stroke-width="1.15"/>
<line x1="829.00" y1="60.76" x2="824.00" y2="60.76" stroke="#000" stroke-width="1.15"/>
<line x1="103.40" y1="77.81" x2="108.40" y2="77.81" stroke="#000" stroke-width="1.15"/>
<line x1="829.00" y1="77.81" x2="824.00" y2="77.81" stroke="#000" stroke-width="1.15"/>
<line x1="103.40" y1="94.87" x2="111.80" y2="94.87" stroke="#000" stroke-width="1.15"/>
<line x1="829.00" y1="94.87" x2="820.60" y2="94.87" stroke="#000" stroke-width="1.15"/>
<line x1="103.40" y1="111.93" x2="108.40" y2="111.93" stroke="#000" stroke-width="1.15"/>
<line x1="829.00" y1="111.93" x2="824.00" y2="111.93" stroke="#000" stroke-width="1.15"/>
<line x1="103.40" y1="128.98" x2="108.40" y2="128.98" stroke="#000" stroke-width="1.15"/>
<line x1="829.00" y1="128.98" x2="824.00" y2="128.98" stroke="#000" stroke-width="1.15"/>
<line x1="103.40" y1="146.03" x2="108.40" y2="146.03" stroke="#000" stroke-width="1.15"/>
<line x1="829.00" y1="146.03" x2="824.00" y2="146.03" stroke="#000" stroke-width="1.15"/>
<line x1="103.40" y1="163.09" x2="111.80" y2="163.09" stroke="#000" stroke-width="1.15"/>
<line x1="829.00" y1="163.09" x2="820.60" y2="163.09" stroke="#000" stroke-width="1.15"/>
<line x1="103.40" y1="180.15" x2="108.40" y2="180.15" stroke="#000" stroke-width="1.15"/>
<line x1="829.00" y1="180.15" x2="824.00" y2="180.15" stroke="#000" stroke-width="1.15"/>
<line x1="103.40" y1="197.20" x2="108.40" y2="197.20" stroke="#000" stroke-width="1.15"/>
<line x1="829.00" y1="197.20" x2="824.00" y2="197.20" stroke="#000" stroke-width="1.15"/>
<line x1="103.40" y1="214.25" x2="108.40" y2="214.25" stroke="#000" stroke-width="1.15"/>
<line x1="829.00" y1="214.25" x2="824.00" y2="214.25" stroke="#000" stroke-width="1.15"/>
<line x1="103.40" y1="231.31" x2="111.80" y2="231.31" stroke="#000" stroke-width="1.15"/>
<line x1="829.00" y1="231.31" x2="820.60" y2="231.31" stroke="#000" stroke-width="1.15"/>
<line x1="103.40" y1="248.37" x2="108.40" y2="248.37" stroke="#000" stroke-width="1.15"/>
<line x1="829.00" y1="248.37" x2="824.00" y2="248.37" stroke="#000" stroke-width="1.15"/>
<line x1="103.40" y1="265.42" x2="108.40" y2="265.42" stroke="#000" stroke-width="1.15"/>
<line x1="829.00" y1="265.42" x2="824.00" y2="265.42" stroke="#000" stroke-width="1.15"/>
<line x1="103.40" y1="282.47" x2="108.40" y2="282.47" stroke="#000" stroke-width="1.15"/>
<line x1="829.00" y1="282.47" x2="824.00" y2="282.47" stroke="#000" stroke-width="1.15"/>
<line x1="103.40" y1="299.53" x2="111.80" y2="299.53" stroke="#000" stroke-width="1.15"/>
<line x1="829.00" y1="299.53" x2="820.60" y2="299.53" stroke="#000" stroke-width="1.15"/>
<line x1="103.40" y1="316.58" x2="108.40" y2="316.58" stroke="#000" stroke-width="1.15"/>
<line x1="829.00" y1="316.58" x2="824.00" y2="316.58" stroke="#000" stroke-width="1.15"/>
<line x1="103.40" y1="333.64" x2="108.40" y2="333.64" stroke="#000" stroke-width="1.15"/>
<line x1="829.00" y1="333.64" x2="824.00" y2="333.64" stroke="#000" stroke-width="1.15"/>
<line x1="103.40" y1="350.69" x2="108.40" y2="350.69" stroke="#000" stroke-width="1.15"/>
<line x1="829.00" y1="350.69" x2="824.00" y2="350.69" stroke="#000" stroke-width="1.15"/>
<line x1="103.40" y1="367.75" x2="111.80" y2="367.75" stroke="#000" stroke-width="1.15"/>
<line x1="829.00" y1="367.75" x2="820.60" y2="367.75" stroke="#000" stroke-width="1.15"/>
<line x1="103.40" y1="384.80" x2="108.40" y2="384.80" stroke="#000" stroke-width="1.15"/>
<line x1="829.00" y1="384.80" x2="824.00" y2="384.80" stroke="#000" stroke-width="1.15"/>
<line x1="103.40" y1="401.86" x2="108.40" y2="401.86" stroke="#000" stroke-width="1.15"/>
<line x1="829.00" y1="401.86" x2="824.00" y2="401.86" stroke="#000" stroke-width="1.15"/>
<line x1="103.40" y1="418.91" x2="108.40" y2="418.91" stroke="#000" stroke-width="1.15"/>
<line x1="829.00" y1="418.91" x2="824.00" y2="418.91" stroke="#000" stroke-width="1.15"/>
<line x1="103.40" y1="435.97" x2="111.80" y2="435.97" stroke="#000" stroke-width="1.15"/>
<line x1="829.00" y1="435.97" x2="820.60" y2="435.97" stroke="#000" stroke-width="1.15"/>
</g>
<path d="M829.0 1.25 H103.4 V449.55 H829.0" fill="none" stroke="#000" stroke-width="1.3" stroke-linejoin="miter"/>
<line x1="829.0" y1="0.65" x2="829.0" y2="450.15000000000003" stroke="#000" stroke-width="1.55"/>
<g class="txt">
<text transform="translate(96.2,37.10) scale(0.965,1.03)" text-anchor="end" class="tk">0</text>
<text transform="translate(96.2,105.32) scale(0.965,1.03)" text-anchor="end" class="tk">2</text>
<rect x="64.56" y="96.97" width="12.9" height="3.4" fill="#000"/>
<text transform="translate(96.2,173.54) scale(0.965,1.03)" text-anchor="end" class="tk">4</text>
<rect x="64.56" y="165.19" width="12.9" height="3.4" fill="#000"/>
<text transform="translate(96.2,241.76) scale(0.965,1.03)" text-anchor="end" class="tk">6</text>
<rect x="64.56" y="233.41" width="12.9" height="3.4" fill="#000"/>
<text transform="translate(96.2,309.98) scale(0.965,1.03)" text-anchor="end" class="tk">8</text>
<rect x="64.56" y="301.63" width="12.9" height="3.4" fill="#000"/>
<text transform="translate(96.2,378.20) scale(0.965,1.03)" text-anchor="end" class="tk">10</text>
<rect x="49.31" y="369.85" width="12.9" height="3.4" fill="#000"/>
<text transform="translate(96.2,446.42) scale(0.965,1.03)" text-anchor="end" class="tk">12</text>
<rect x="49.31" y="438.07" width="12.9" height="3.4" fill="#000"/>

<text transform="translate(233.70,484.4) scale(0.965,1.03)" text-anchor="middle" class="tk">0</text>
<text transform="translate(378.88,484.4) scale(0.965,1.03)" text-anchor="middle" class="tk">1</text>
<text transform="translate(524.05,484.4) scale(0.965,1.03)" text-anchor="middle" class="tk">2</text>
<text transform="translate(669.23,484.4) scale(0.965,1.03)" text-anchor="middle" class="tk">3</text>
<text transform="translate(814.40,484.4) scale(0.965,1.03)" text-anchor="middle" class="tk">4</text>

<text transform="translate(465.8,532.7) scale(1.07,1)" text-anchor="middle" class="ax">z</text>
<text transform="translate(27.55,225.7) rotate(-90) scale(0.98,0.936)" text-anchor="middle" class="ax">s</text>
</g>
<g fill="none" stroke-width="3.6">
<line x1="430.8" y1="272.05" x2="523.3" y2="272.05" stroke="#ff0000"/>
<line x1="430.8" y1="321.9" x2="518.1" y2="321.9" stroke="#0000ff" stroke-dasharray="13.4 5.05"/>
<line x1="430.8" y1="371.7" x2="515.6" y2="371.7" stroke="#000" stroke-dasharray="6.2 5.1 13.4 5.2"/>
</g>
<g class="txt">
<text transform="translate(537,281.7) scale(1,1.05)" class="lg">CC</text>
<text transform="translate(537,331.5) scale(1,1.05)" class="lg">Pantheon<tspan dy="2.9">+</tspan><tspan dy="-2.9">SH0ES</tspan></text>
<text transform="translate(537,381.3) scale(1,1.05)" class="lg">CC<tspan dy="2.9">+</tspan><tspan dy="-2.9">Pantheon</tspan><tspan dy="2.9">+</tspan><tspan dy="-2.9">SH0ES</tspan></text>
</g>
</svg>
</body></html>
